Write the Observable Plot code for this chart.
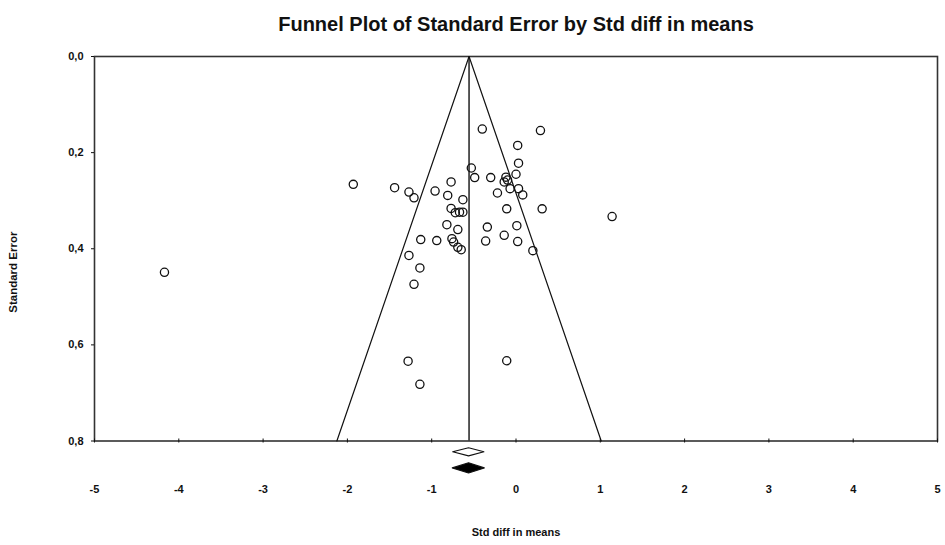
<!DOCTYPE html>
<html>
<head>
<meta charset="utf-8">
<script src="https://cdn.jsdelivr.net/npm/d3@7"></script>
<script src="https://cdn.jsdelivr.net/npm/@observablehq/plot@0.6"></script>
<style>
  html, body { margin: 0; padding: 0; background: #fff; }
</style>
</head>
<body>
<div id="chart"></div>
<script>
// ---- Data ----
const chartTitle = "Funnel Plot of Standard Error by Std diff in means";
const xTitle = "Std diff in means";
const yTitle = "Standard Error";

const xTicks = [-5, -4, -3, -2, -1, 0, 1, 2, 3, 4, 5];
const yTicks = [0, 0.2, 0.4, 0.6, 0.8];

// study effects (Std diff in means) and their standard errors
const studyEffect = [
  -4.17, -1.93, -1.44, -1.27, -1.21, -0.96, -0.77, -0.81, -0.63, -0.77,
  -0.72, -0.67, -0.63, -0.82, -0.69, -1.13, -0.94, -0.76, -0.74, -0.69,
  -0.65, -1.27, -1.14, -1.21, -1.28, -1.14, -0.53, -0.49, -0.40, 0.29,
   0.02, 0.03, -0.30, -0.12, 0.00, -0.14, -0.07, 0.03, 0.08, -0.22,
  -0.11, 0.31, 1.14, -0.34, 0.01, -0.14, -0.36, 0.02, 0.20, -0.11,
  -0.10
];
const studySE = [
  0.449, 0.266, 0.273, 0.282, 0.294, 0.280, 0.261, 0.289, 0.298, 0.316,
  0.325, 0.324, 0.324, 0.350, 0.360, 0.381, 0.383, 0.379, 0.386, 0.397,
  0.402, 0.414, 0.440, 0.474, 0.634, 0.682, 0.232, 0.252, 0.151, 0.154,
  0.185, 0.222, 0.252, 0.251, 0.245, 0.261, 0.275, 0.275, 0.288, 0.284,
  0.317, 0.317, 0.333, 0.355, 0.352, 0.372, 0.384, 0.385, 0.404, 0.633,
  0.257
];

// pooled estimate and its confidence interval (observed, imputed)
const summaryKind = ["observed", "imputed"];
const summaryEst = [-0.557, -0.557];
const summaryLow = [-0.745, -0.75];
const summaryHigh = [-0.375, -0.37];

const funnelSE = [0.8, 0, 0.8];
const funnelSide = [-1.96, 0, 1.96];

// ---- Layout constants ----
const diamondRow = [0.8235, 0.857];   // vertical centre of each diamond (SE scale)
const diamondHalf = [0.0085, 0.0105];
const diamondFill = ["white", "black"];

// ---- Build tables ----
const studies = studyEffect.map((x, i) => ({x, se: studySE[i]}));
const funnel = funnelSE.map((se, i) => ({x: summaryEst[0] + funnelSide[i] * se, se}));
const diamonds = summaryKind.map((k, i) => [
  {x: summaryLow[i], y1: diamondRow[i], y2: diamondRow[i]},
  {x: summaryEst[i], y1: diamondRow[i] - diamondHalf[i], y2: diamondRow[i] + diamondHalf[i]},
  {x: summaryHigh[i], y1: diamondRow[i], y2: diamondRow[i]}
]);

const font = "'Liberation Sans', Arial, sans-serif";

const chart = Plot.plot({
  width: 945,
  height: 545,
  marginTop: 56,
  marginBottom: 104.5,
  marginLeft: 94,
  marginRight: 8,
  x: {domain: [-5, 5]},
  y: {domain: [0, 0.8], reverse: true},
  style: {fontFamily: font, fontSize: "11px", fontWeight: "bold", color: "#111", background: "#fff", overflow: "visible"},
  marks: [
    Plot.frame({stroke: "#333", strokeWidth: 1.6}),
    Plot.axisY({ticks: yTicks, tickSize: 3, tickPadding: 8, label: null,
      tickFormat: d => d.toFixed(1).replace(".", ",")}),
    Plot.axisX({ticks: xTicks, tickSize: 4, dy: -2, label: null, tickFormat: () => ""}),
    Plot.axisX({ticks: xTicks, tickSize: 0, tickPadding: 44, label: null, tickFormat: d => String(d)}),
    Plot.line(funnel, {x: "x", y: "se", stroke: "#111", strokeWidth: 1.2}),
    Plot.ruleX([summaryEst[0]], {y1: 0, y2: 0.8, stroke: "#111", strokeWidth: 1.4}),
    Plot.dot(studies, {x: "x", y: "se", r: 4.1, stroke: "#111", fill: "none", strokeWidth: 1.3}),
    ...diamonds.map((d, i) => Plot.areaY(d, {x: "x", y1: "y1", y2: "y2", fill: diamondFill[i], stroke: "#111", strokeWidth: 1.1})),
    Plot.text([chartTitle], {frameAnchor: "top", dy: -40, fontSize: 20, fontWeight: "bold", fill: "#111", wordSpacing: 3}),
    Plot.text([xTitle], {frameAnchor: "bottom", dy: 95, fontSize: 11, fontWeight: "bold", fill: "#111"}),
    Plot.text([yTitle], {frameAnchor: "left", dx: -81, dy: 64, rotate: -90, fontSize: 11.5, fontWeight: "bold", fill: "#111"})
  ]
});

document.getElementById("chart").appendChild(chart);
</script>
</body>
</html>
